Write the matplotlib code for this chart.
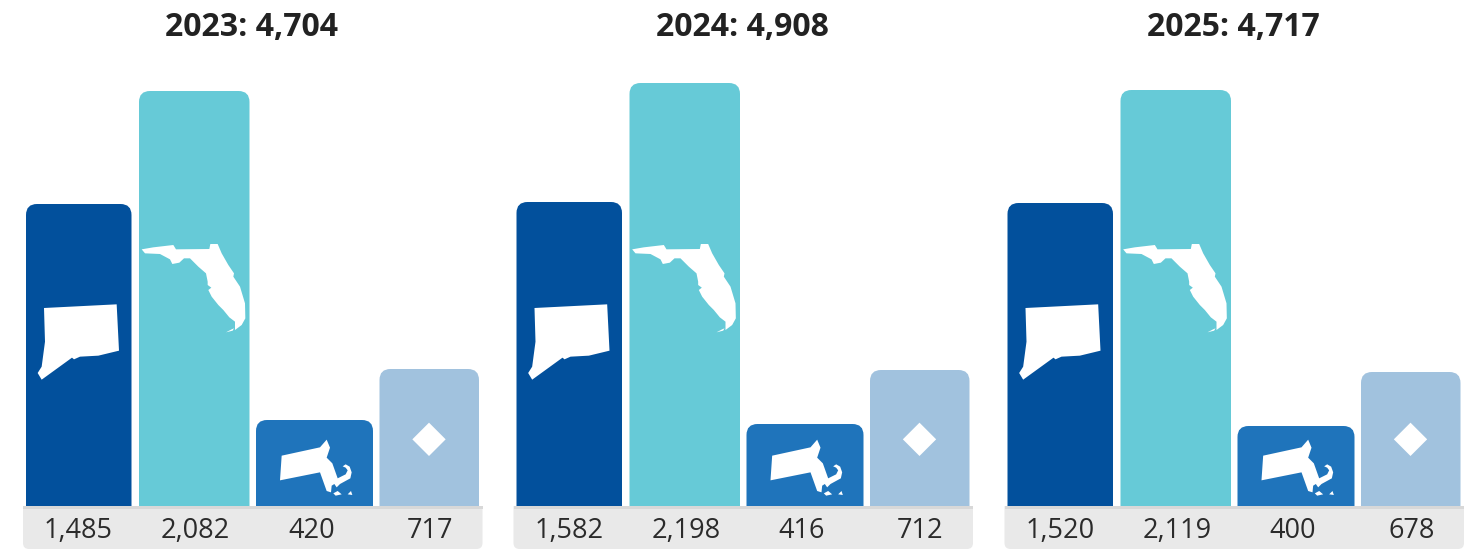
import matplotlib
matplotlib.use("Agg")
import matplotlib.pyplot as plt
from matplotlib.patches import PathPatch, Polygon, Rectangle
from matplotlib.path import Path

plt.rcParams['font.family'] = ['Open Sans', 'DejaVu Sans']

# --- DATA ---
years = ["2023", "2024", "2025"]
totals = ["4,704", "4,908", "4,717"]
value_labels = [
    ["1,485", "2,082", "420", "717"],
    ["1,582", "2,198", "416", "712"],
    ["1,520", "2,119", "400", "678"],
]
# bar lengths, they are not quite in proportion to the labels
bar_2023 = [301, 414, 85, 136]
bar_2024 = [303, 422, 81, 135]
bar_2025 = [302, 415, 79, 133]
bars = [bar_2023, bar_2024, bar_2025]

colors = ["#02509c", "#66cad7", "#1f74bb", "#a1c2de"]
bar_left = [26, 139, 256, 379.5]
bar_width = [105.5, 110.5, 117, 99.5]
label_x = [78.5, 195.5, 311.5, 430]
panel_left = [0, 490.5, 981.5]
BASE = 505  # baseline, pixels from the top of the figure
W, H = 1476, 549


# --- ICONS (3x crops) ---
def trace(pts, x0, y0):
    return [(x0 + x / 3, BASE - (y0 + y / 3)) for x, y in pts]


ct = trace([(132, 354), (350, 343), (357, 482), (295, 497), (240, 500), (222, 508), (216, 503),
            (125, 569), (113, 549), (125, 530), (135, 455)], 0, 190)
fl = trace([(5, 28), (40, 22), (100, 15), (108, 28), (208, 27), (211, 12), (233, 12), (245, 40),
            (265, 75), (282, 100), (280, 110), (300, 140), (315, 190), (316, 235), (305, 255),
            (285, 270), (285, 245), (268, 232), (250, 210), (235, 195), (215, 170), (205, 150),
            (214, 143), (203, 135), (203, 125), (198, 100), (175, 80), (150, 55), (132, 55),
            (118, 68), (97, 72), (90, 58), (60, 42), (15, 40)], 140, 240)
fl_keys = trace([(258, 277), (275, 268), (282, 265), (278, 272)], 140, 240)
ma = trace([(20, 62), (135, 37), (155, 14), (165, 38), (155, 68), (172, 85), (188, 130), (212, 118),
            (218, 106), (212, 98), (203, 94), (212, 88), (224, 95), (230, 112), (226, 130),
            (195, 147), (185, 157), (178, 147), (170, 152), (168, 172), (155, 168), (135, 112),
            (15, 136)], 275, 435)
ma_isl1 = trace([(175, 175), (188, 168), (200, 178), (182, 182)], 275, 435)
ma_isl2 = trace([(218, 178), (228, 168), (232, 180)], 275, 435)
diamond = trace([(537, 188), (587, 238), (537, 288), (487, 238)], 250, 360)
icons = [ct, fl, fl_keys, ma, ma_isl1, ma_isl2, diamond]


def rounded(x0, x1, y0, y1, r, top=True):
    # box with the two top (or two bottom) corners rounded
    if top:
        verts = [(x0, y0), (x0, y1 - r), (x0, y1), (x0 + r, y1), (x1 - r, y1), (x1, y1), (x1, y1 - r), (x1, y0), (x0, y0)]
    else:
        verts = [(x0, y1), (x0, y0 + r), (x0, y0), (x0 + r, y0), (x1 - r, y0), (x1, y0), (x1, y0 + r), (x1, y1), (x0, y1)]
    codes = [Path.MOVETO, Path.LINETO, Path.CURVE3, Path.CURVE3, Path.LINETO, Path.CURVE3, Path.CURVE3, Path.LINETO, Path.CLOSEPOLY]
    return Path(verts, codes)


# --- PLOT ---
fig = plt.figure(figsize=(W / 100, H / 100), dpi=100)
for i, year in enumerate(years):
    left = panel_left[i]
    ax = fig.add_axes([left / W, 0, 490 / W, 1])
    ax.set_xlim(0, 490)
    ax.set_ylim(BASE - H, BASE)
    ax.axis("off")

    # grey strip under the bars
    ax.add_patch(PathPatch(rounded(23, 482.5, BASE - H, -1, 6, top=False), fc="#e9e9e9", ec="none"))
    ax.add_patch(Rectangle((23, -4), 459.5, 3.5, fc="#d8d8d8", ec="none"))

    for j in range(4):
        x0 = bar_left[j]
        x1 = x0 + bar_width[j]
        ax.add_patch(PathPatch(rounded(x0, x1, -1, bars[i][j], 11), fc=colors[j], ec="none"))
        ax.text(label_x[j], -26, value_labels[i][j], ha="center", va="center", fontsize=19.5, color="#2b2b2b")

    for pts in icons:
        ax.add_patch(Polygon(pts, closed=True, fc="white", ec="none"))

    ax.text(251.5, BASE - 28, f"{year}: {totals[i]}", ha="center", va="center", fontsize=23,
            fontweight="bold", color="#222222")

fig.savefig("out.png", dpi=100)
